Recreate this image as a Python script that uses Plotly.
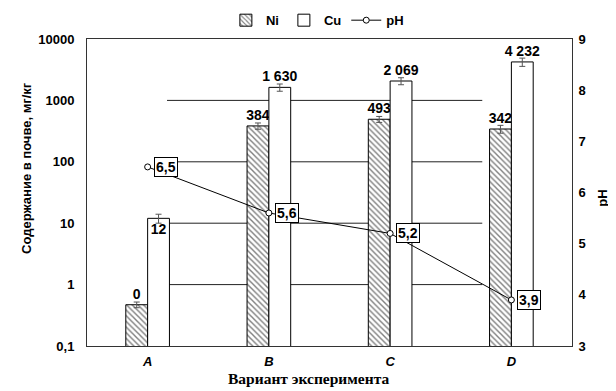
import plotly.graph_objects as go

categories = ["A", "B", "C", "D"]
ni_values = [0.47, 384, 493, 342]
ni_errors = [0.05, 45, 55, 50]
ni_labels = ["0", "384", "493", "342"]
cu_values = [12, 1630, 2069, 4232]
cu_errors = [2, 220, 270, 650]
cu_labels = ["12", "1 630", "2 069", "4 232"]
ph_values = [6.5, 5.6, 5.2, 3.9]
ph_labels = ["6,5", "5,6", "5,2", "3,9"]
y_tickvals = [0.1, 1, 10, 100, 1000, 10000]
y_ticktext = ["0,1", "1", "10", "100", "1000", "10000"]
grid_levels = [1, 10, 100, 1000]

FONT = "Liberation Sans, Arial, sans-serif"
BOLD = dict(family=FONT, size=13, color="black", weight="bold")

fig = go.Figure()

fig.add_trace(go.Bar(
    name="Ni", x=categories, y=ni_values,
    marker=dict(color="white", line=dict(color="black", width=1),
                pattern=dict(shape="\\", fgcolor="black", bgcolor="white", size=4, solidity=0.35)),
    error_y=dict(type="data", array=ni_errors, color="#555", thickness=1, width=3),
    text=ni_labels, textposition="outside", constraintext="none", cliponaxis=False,
    textfont=dict(family=FONT, size=14, color="black", weight="bold"),
))
fig.add_trace(go.Bar(
    name="Cu", x=categories, y=cu_values,
    marker=dict(color="white", line=dict(color="black", width=1)),
    error_y=dict(type="data", array=cu_errors, color="#555", thickness=1, width=3),
    text=cu_labels, textposition=["inside", "outside", "outside", "outside"],
    insidetextanchor="end", constraintext="none", cliponaxis=False,
    textfont=dict(family=FONT, size=14, color="black", weight="bold"),
))
fig.add_trace(go.Scatter(
    name="pH", x=categories, y=ph_values, yaxis="y2", mode="lines+markers",
    line=dict(color="black", width=1),
    marker=dict(symbol="circle", size=6, color="white", line=dict(color="black", width=1)),
))

for c, v, t in zip(categories, ph_values, ph_labels):
    fig.add_annotation(x=c, y=v, xref="x", yref="y2", text=t, showarrow=False,
                       xshift=18, font=dict(family=FONT, size=14, color="black", weight="bold"),
                       bordercolor="black", borderwidth=1, borderpad=1, bgcolor="white")

for g in grid_levels:
    fig.add_shape(type="line", xref="x", yref="y", x0=0.16, x1=2.76, y0=g, y1=g,
                  line=dict(color="#222", width=1), layer="below")

# axis titles
fig.add_annotation(xref="paper", yref="paper", x=0, y=0.58, xshift=-60, textangle=-90,
                   xanchor="center", yanchor="middle",
                   text="Содержание в почве, мг/кг", showarrow=False,
                   font=dict(family=FONT, size=13, color="black", weight="bold"))
fig.add_annotation(xref="paper", yref="paper", x=1, y=0.48, xshift=31, textangle=-90,
                   xanchor="center", yanchor="middle",
                   text="pH", showarrow=False,
                   font=dict(family=FONT, size=13, color="black", weight="bold"))
fig.add_annotation(xref="paper", yref="paper", x=0.456, y=0, yshift=-32,
                   xanchor="center", yanchor="middle",
                   text="Вариант эксперимента", showarrow=False,
                   font=dict(family="Liberation Serif, Times New Roman, serif", size=15.5,
                             color="black", weight="bold"))

fig.update_layout(
    width=608, height=383,
    margin=dict(l=79, r=44, t=31, b=45, autoexpand=False),
    paper_bgcolor="white", plot_bgcolor="white",
    barmode="group", bargap=0.64, bargroupgap=0,
    showlegend=True,
    legend=dict(orientation="h", x=0.475, xanchor="center", y=1.11, yanchor="top",
                font=BOLD, itemwidth=30, tracegroupgap=0),
    xaxis=dict(type="category", range=[-0.5, 3.5], showline=True, linecolor="#333", linewidth=1,
               mirror=True, ticks="", showgrid=False, automargin=False, ticklabelstandoff=3,
               tickfont=dict(family=FONT, size=13, color="black", weight="bold", style="italic")),
    yaxis=dict(type="log", range=[-1, 4], tickvals=y_tickvals, ticktext=y_ticktext,
               showline=True, linecolor="#333", linewidth=1, mirror=True, ticks="",
               showgrid=False, zeroline=False, tickfont=BOLD, automargin=False,
               ticklabelstandoff=9),
    yaxis2=dict(overlaying="y", side="right", range=[3, 9], dtick=1, showgrid=False,
                showline=True, linecolor="#333", linewidth=1, ticks="", zeroline=False,
                tickfont=BOLD, automargin=False, ticklabelstandoff=3),
)

fig.write_html("out.html")
